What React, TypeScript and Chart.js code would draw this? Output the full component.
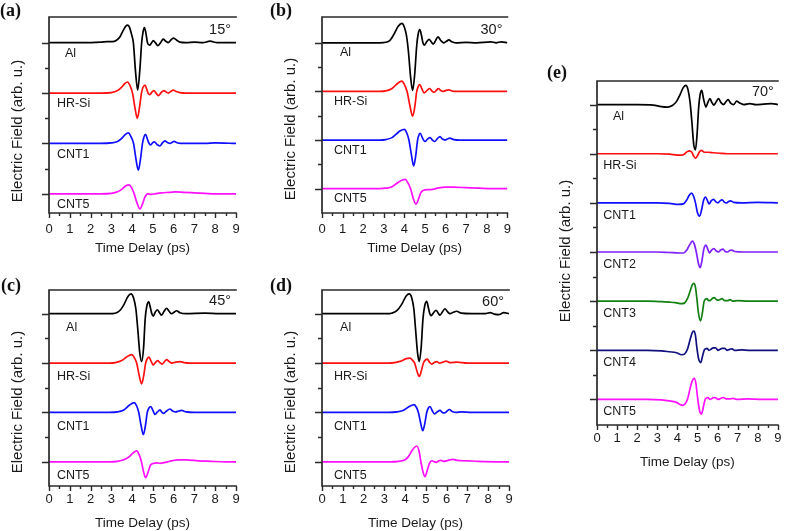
import React, { useEffect, useRef } from "react";
import { Chart, registerables } from "chart.js";

Chart.register(...registerables);

type Pt = [number, number];

// ---------- shared labels / ticks ----------
const traceNamesAD = ["Al", "HR-Si", "CNT1", "CNT5"];
const traceNamesE = ["Al", "HR-Si", "CNT1", "CNT2", "CNT3", "CNT4", "CNT5"];
const baselinesAD = [3, 2, 1, 0];
const baselinesE = [6, 5, 4, 3, 2, 1, 0];
const colorsAD = ["#000000", "#ff1010", "#1010ff", "#ff10ff"];
const colorsE = ["#000000", "#ff1010", "#1010ff", "#8020ff", "#108010", "#101080", "#ff10ff"];
const xMajorTicks = [0, 1, 2, 3, 4, 5, 6, 7, 8, 9];
const xMinorTicks = [0.5, 1.5, 2.5, 3.5, 4.5, 5.5, 6.5, 7.5, 8.5];
const yMajorAD = [0, 1, 2, 3];
const yMinorAD = [0.5, 1.5, 2.5];
const yMajorE = [0, 1, 2, 3, 4, 5, 6];
const yMinorE = [0.5, 1.5, 2.5, 3.5, 4.5, 5.5];
const angleLabels = ["15°", "30°", "45°", "60°", "70°"];
const xTitle = "Time Delay (ps)";
const yTitle = "Electric Field (arb. u.)";

// ---------- (a) 15° ----------
const aAl: Pt[] = [[0,0],[1.5,0],[2.5,0.01],[2.8,0.02],[3.05,0.02],[3.25,0.05],[3.42,0.12],[3.58,0.25],[3.7,0.33],[3.79,0.35],[3.88,0.3],[3.97,0.17],[4.06,0],[4.17,-0.6],[4.27,-0.94],[4.37,-0.55],[4.46,0],[4.53,0.22],[4.59,0.3],[4.66,0.2],[4.74,0.0],[4.84,-0.05],[4.94,0.0],[5.02,0.04],[5.12,0.0],[5.24,-0.06],[5.37,0.0],[5.5,0.07],[5.62,0.03],[5.74,0.0],[5.86,0.05],[5.98,0.09],[6.12,0.06],[6.3,0.01],[6.6,0.0],[7.0,0.01],[7.4,0.0],[7.75,0.03],[8.1,0.0],[9,0]];
const aHR: Pt[] = [[0,0],[2.5,0],[3.0,0.01],[3.3,0.05],[3.5,0.12],[3.65,0.19],[3.77,0.22],[3.9,0.15],[4.02,0],[4.14,-0.3],[4.25,-0.5],[4.35,-0.3],[4.45,0],[4.53,0.12],[4.62,0.16],[4.7,0.08],[4.78,-0.01],[4.86,-0.03],[4.95,0.02],[5.05,0.05],[5.15,0.0],[5.26,-0.05],[5.4,0.01],[5.53,0.05],[5.64,0.02],[5.74,0.0],[5.86,0.03],[5.98,0.06],[6.12,0.03],[6.3,0.01],[6.6,0.0],[9,0]];
const aC1: Pt[] = [[0,0],[2.5,0],[3.0,0.01],[3.3,0.04],[3.5,0.1],[3.68,0.18],[3.82,0.21],[3.95,0.13],[4.07,0],[4.19,-0.32],[4.3,-0.53],[4.4,-0.32],[4.5,0],[4.57,0.13],[4.65,0.18],[4.74,0.08],[4.82,0],[4.9,-0.03],[4.98,0.01],[5.07,0.03],[5.2,-0.02],[5.34,-0.05],[5.46,0.01],[5.58,0.05],[5.7,0.02],[5.82,0.0],[5.92,0.02],[6.01,0.04],[6.2,0.01],[6.5,0.0],[7.5,0.0],[8.0,0.01],[9,0]];
const aC5: Pt[] = [[0,0],[2.5,0],[3.0,0.01],[3.3,0.04],[3.5,0.09],[3.7,0.16],[3.85,0.18],[3.98,0.12],[4.1,0.0],[4.22,-0.16],[4.38,-0.3],[4.5,-0.2],[4.62,-0.06],[4.75,0.0],[4.9,-0.01],[5.1,0.0],[5.4,0.02],[5.8,0.03],[6.1,0.04],[6.5,0.03],[7.0,0.02],[7.5,0.01],[8.0,0.0],[9,0]];

// ---------- (b) 30° ----------
const bAl: Pt[] = [[0,0],[2.8,0],[3.1,0.01],[3.3,0.05],[3.5,0.18],[3.7,0.34],[3.88,0.4],[4.0,0.32],[4.1,0.15],[4.2,-0.2],[4.3,-0.7],[4.4,-0.98],[4.5,-0.65],[4.6,-0.05],[4.67,0.18],[4.75,0.27],[4.83,0.15],[4.9,0],[4.96,-0.05],[5.08,0.02],[5.2,0.07],[5.3,0.02],[5.4,-0.03],[5.52,0.05],[5.63,0.12],[5.76,0.05],[5.92,0.0],[6.04,0.03],[6.16,0.06],[6.3,0.02],[6.5,0.0],[7.0,0.01],[7.5,0.0],[8.2,0.02],[8.45,0.0],[8.7,0.02],[9,0.0]];
const bHR: Pt[] = [[0,0],[2.8,0],[3.1,0.01],[3.4,0.06],[3.6,0.14],[3.75,0.19],[3.88,0.21],[4.0,0.14],[4.13,0],[4.27,-0.3],[4.4,-0.51],[4.5,-0.33],[4.6,0],[4.67,0.1],[4.75,0.14],[4.84,0.06],[4.96,-0.03],[5.1,0.02],[5.23,0.06],[5.33,0.01],[5.44,-0.02],[5.55,0.02],[5.65,0.06],[5.76,0.02],[5.88,0],[6.02,0.02],[6.16,0.03],[6.4,0.0],[9,0]];
const bC1: Pt[] = [[0,0],[2.8,0],[3.1,0.01],[3.4,0.05],[3.6,0.12],[3.8,0.19],[4.0,0.22],[4.12,0.14],[4.22,0],[4.34,-0.3],[4.45,-0.53],[4.55,-0.32],[4.64,0],[4.7,0.1],[4.77,0.14],[4.87,0.05],[5.0,-0.03],[5.12,0.02],[5.25,0.05],[5.36,0.0],[5.47,-0.03],[5.6,0.03],[5.73,0.07],[5.85,0.02],[5.97,0],[6.08,0.02],[6.2,0.04],[6.4,0.01],[6.7,0.0],[9,0]];
const bC5: Pt[] = [[0,0],[2.8,0],[3.1,0.01],[3.4,0.04],[3.6,0.1],[3.85,0.17],[4.04,0.19],[4.17,0.12],[4.3,0.0],[4.43,-0.2],[4.56,-0.32],[4.68,-0.22],[4.8,-0.08],[4.9,-0.04],[5.12,-0.02],[5.3,-0.02],[5.6,0.01],[6.0,0.03],[6.4,0.03],[7.0,0.02],[7.6,0.01],[8.3,0.0],[9,0]];

// ---------- (c) 45° ----------
const cAl: Pt[] = [[0,0],[2.9,0],[3.18,0.01],[3.4,0.06],[3.6,0.18],[3.8,0.35],[3.95,0.4],[4.07,0.32],[4.18,0.1],[4.27,-0.3],[4.37,-0.8],[4.46,-0.97],[4.55,-0.7],[4.63,-0.1],[4.71,0.16],[4.8,0.24],[4.88,0.12],[4.95,0],[5.02,-0.05],[5.1,0.02],[5.21,0.08],[5.32,0.02],[5.42,-0.03],[5.54,0.05],[5.66,0.11],[5.78,0.05],[5.9,0],[6.02,0.03],[6.14,0.06],[6.3,0.02],[6.6,0.0],[7.5,0.01],[8.2,0.0],[9,0]];
const cHR: Pt[] = [[0,0],[2.9,0],[3.2,0.01],[3.5,0.05],[3.75,0.13],[3.98,0.17],[4.12,0.1],[4.22,0],[4.34,-0.25],[4.46,-0.42],[4.56,-0.25],[4.65,0],[4.73,0.09],[4.81,0.12],[4.9,0.05],[5.02,-0.04],[5.12,0.01],[5.23,0.05],[5.34,0.01],[5.45,-0.02],[5.56,0.03],[5.66,0.07],[5.78,0.03],[5.92,0.0],[6.1,0.02],[6.3,0.03],[6.5,0.01],[6.8,0.0],[9,0]];
const cC1: Pt[] = [[0,0],[2.9,0],[3.3,0.01],[3.6,0.05],[3.85,0.14],[4.1,0.2],[4.22,0.13],[4.32,0],[4.43,-0.26],[4.54,-0.45],[4.64,-0.27],[4.73,0],[4.81,0.09],[4.9,0.12],[5.0,0.04],[5.1,-0.04],[5.22,0.01],[5.34,0.05],[5.44,0.0],[5.52,-0.02],[5.66,0.03],[5.82,0.07],[5.95,0.03],[6.1,0.01],[6.25,0.03],[6.38,0.04],[6.6,0.01],[7.0,0.0],[9,0]];
const cC5: Pt[] = [[0,0],[2.9,0],[3.3,0.01],[3.6,0.04],[3.85,0.1],[4.05,0.18],[4.22,0.22],[4.34,0.14],[4.45,0],[4.55,-0.2],[4.65,-0.32],[4.76,-0.22],[4.88,-0.07],[4.96,-0.04],[5.08,-0.03],[5.18,-0.02],[5.35,-0.03],[5.5,-0.02],[5.7,0.0],[5.9,0.02],[6.2,0.04],[6.6,0.04],[7.2,0.02],[7.8,0.01],[8.5,0.0],[9,0]];

// ---------- (d) 60° ----------
const dAl: Pt[] = [[0,0],[3.1,0],[3.35,0.01],[3.6,0.06],[3.85,0.2],[4.05,0.36],[4.2,0.4],[4.32,0.32],[4.42,0.1],[4.5,-0.3],[4.6,-0.8],[4.68,-0.97],[4.77,-0.7],[4.86,-0.1],[4.95,0.17],[5.04,0.25],[5.12,0.12],[5.19,0],[5.25,-0.04],[5.37,0.02],[5.49,0.07],[5.58,0.02],[5.68,-0.03],[5.8,0.04],[5.92,0.1],[6.04,0.04],[6.16,0],[6.32,0.03],[6.48,0.05],[6.7,0.01],[7.2,0.0],[7.8,0.0],[8.1,0.02],[8.3,-0.01],[8.5,-0.02],[8.75,0.02],[9,0.0]];
const dHR: Pt[] = [[0,0],[3.2,0],[3.5,0.01],[3.8,0.04],[4.05,0.09],[4.23,0.1],[4.37,0.05],[4.46,0],[4.57,-0.16],[4.68,-0.27],[4.78,-0.16],[4.88,0],[4.97,0.06],[5.07,0.08],[5.17,0.02],[5.28,-0.02],[5.4,0.01],[5.52,0.03],[5.66,0.0],[5.82,0.02],[5.97,0.04],[6.15,0.01],[6.5,0.02],[7.0,0.0],[9,0]];
const dC1: Pt[] = [[0,0],[3.2,0],[3.6,0.01],[3.9,0.04],[4.2,0.12],[4.43,0.16],[4.55,0.1],[4.64,0],[4.75,-0.22],[4.85,-0.37],[4.95,-0.22],[5.04,0],[5.12,0.09],[5.2,0.12],[5.3,0.04],[5.41,-0.03],[5.54,0.01],[5.68,0.04],[5.79,0.0],[5.89,-0.01],[6.0,0.02],[6.13,0.06],[6.27,0.02],[6.45,0.0],[6.7,0.01],[7.2,0.0],[9,0]];
const dC5: Pt[] = [[0,0],[3.3,0],[3.7,0.01],[3.95,0.03],[4.15,0.1],[4.35,0.24],[4.56,0.32],[4.68,0.2],[4.76,0],[4.86,-0.2],[4.96,-0.3],[5.06,-0.18],[5.17,-0.03],[5.28,0.02],[5.4,0.0],[5.5,-0.01],[5.62,0.02],[5.72,0.03],[5.85,0.01],[6.0,0.02],[6.15,0.04],[6.3,0.05],[6.5,0.03],[7.0,0.02],[7.5,0.01],[8.5,0.0],[9,0]];

// ---------- (e) 70° ----------
const eAl: Pt[] = [[0,0],[2.0,0],[2.8,-0.01],[3.2,-0.04],[3.5,-0.05],[3.75,-0.02],[3.95,0.06],[4.15,0.22],[4.3,0.35],[4.42,0.39],[4.53,0.3],[4.63,0.05],[4.72,-0.35],[4.81,-0.8],[4.9,-0.92],[4.98,-0.6],[5.06,-0.05],[5.13,0.2],[5.21,0.29],[5.3,0.12],[5.42,-0.05],[5.52,0.05],[5.62,0.12],[5.72,0.04],[5.82,-0.01],[5.93,0.06],[6.05,0.12],[6.17,0.04],[6.3,0.0],[6.4,0.05],[6.52,0.1],[6.65,0.03],[6.8,0.0],[6.95,0.07],[7.1,0.03],[7.3,0.0],[7.6,0.02],[7.9,0.0],[8.3,0.01],[8.7,0.02],[9,0.0]];
const eHR: Pt[] = [[0,0],[3.0,0],[3.6,-0.01],[4.1,-0.03],[4.3,-0.02],[4.45,0.03],[4.6,0.06],[4.72,0.03],[4.8,-0.04],[4.9,-0.09],[5.0,-0.04],[5.1,0.04],[5.2,0.07],[5.34,0.03],[5.55,0.03],[5.8,0.02],[6.1,0.01],[6.5,0.0],[9,0]];
const eC1: Pt[] = [[0,0],[3.0,0],[3.6,-0.01],[4.05,-0.03],[4.3,-0.02],[4.45,0.05],[4.58,0.15],[4.7,0.2],[4.8,0.14],[4.9,0],[5.0,-0.2],[5.1,-0.27],[5.2,-0.15],[5.3,0.05],[5.4,0.12],[5.5,0.04],[5.58,-0.02],[5.68,0.04],[5.8,0.07],[5.92,0.02],[6.02,0.0],[6.12,0.04],[6.23,0.06],[6.35,0.01],[6.45,0.0],[6.55,0.03],[6.65,0.04],[6.8,0.01],[7.2,0.0],[8.0,0.01],[9,0]];
const eC2: Pt[] = [[0,0],[3.0,0],[3.6,-0.01],[4.1,-0.02],[4.3,-0.02],[4.45,0.03],[4.6,0.14],[4.75,0.22],[4.85,0.15],[4.94,0],[5.04,-0.22],[5.13,-0.32],[5.22,-0.18],[5.31,0.05],[5.42,0.14],[5.52,0.05],[5.6,-0.02],[5.7,0.04],[5.82,0.07],[5.94,0.02],[6.04,0.0],[6.15,0.04],[6.27,0.06],[6.38,0.01],[6.5,0.0],[6.6,0.03],[6.7,0.04],[6.85,0.01],[7.3,0.0],[9,0]];
const eC3: Pt[] = [[0,0],[2.5,0],[3.2,-0.01],[3.6,-0.02],[3.9,-0.03],[4.2,-0.05],[4.35,-0.04],[4.5,0.05],[4.63,0.2],[4.73,0.32],[4.82,0.36],[4.9,0.28],[4.97,0.05],[5.05,-0.25],[5.15,-0.4],[5.24,-0.25],[5.32,-0.02],[5.4,0.04],[5.47,0.05],[5.56,0.01],[5.65,0.02],[5.75,0.06],[5.83,0.07],[5.95,0.03],[6.05,0.02],[6.15,0.04],[6.23,0.05],[6.35,0.01],[6.5,0.01],[6.62,0.03],[6.75,0.0],[7.0,0.01],[7.5,0.0],[9,0]];
const eC4: Pt[] = [[0,0],[2.5,0],[3.2,-0.01],[3.6,-0.03],[3.95,-0.05],[4.22,-0.09],[4.37,-0.07],[4.5,0.02],[4.62,0.2],[4.73,0.35],[4.82,0.39],[4.9,0.3],[4.97,0.05],[5.06,-0.18],[5.16,-0.25],[5.25,-0.12],[5.33,0.0],[5.4,0.03],[5.47,0.04],[5.57,0.0],[5.67,0.02],[5.78,0.05],[5.9,0.05],[6.02,0.0],[6.12,0.02],[6.23,0.04],[6.35,0.04],[6.47,0.0],[6.6,0.02],[6.72,0.03],[6.85,0.0],[7.2,0.01],[7.6,0.0],[9,0]];
const eC5: Pt[] = [[0,0],[2.5,0],[3.2,-0.01],[3.6,-0.03],[3.95,-0.06],[4.24,-0.12],[4.38,-0.09],[4.5,0.0],[4.62,0.2],[4.74,0.38],[4.84,0.43],[4.92,0.33],[5.0,0.05],[5.1,-0.22],[5.2,-0.3],[5.3,-0.14],[5.38,0.0],[5.45,0.03],[5.52,0.04],[5.62,0.0],[5.72,0.02],[5.82,0.04],[5.92,0.03],[6.02,0.0],[6.15,0.02],[6.3,0.04],[6.42,0.01],[6.6,0.01],[6.75,0.02],[7.0,0.0],[7.5,0.01],[8.2,0.0],[9,0]];

// ---------- styling ----------
const SANS = '"Liberation Sans", Arial, Helvetica, sans-serif';
const SERIF = '"Liberation Serif", "Times New Roman", serif';
const AXIS_COLOR = "#2a2a2a";
const TEXT_COLOR = "#1a1a1a";

type PanelCfg = {
  tag: string;
  angle: string;
  series: Pt[][];
  names: string[];
  colors: string[];
  base: number[];
  yMin: number;
  yMax: number;
  yMajor: number[];
  yMinor: number[];
  labelX: number[];
  labelDrop: number;
  angleX: number;
  angleY: number;
  canvas: { left: number; top: number; w: number; h: number };
  yAxisW: number;
  xAxisH: number;
  padTop: number;
  padRight: number;
  tickPad: number;
  titlePad: number;
  yTitleShift: number;
  tagPos: { left: number; top: number };
};

const panels: PanelCfg[] = [
  {
    tag: "(a)", angle: angleLabels[0], series: [aAl, aHR, aC1, aC5], names: traceNamesAD, colors: colorsAD, base: baselinesAD,
    yMin: -0.38, yMax: 3.51, yMajor: yMajorAD, yMinor: yMinorAD,
    labelX: [0.77, 0.38, 0.38, 0.38], labelDrop: 0.21, angleX: 8.76, angleY: 3.25,
    canvas: { left: 0, top: 0, w: 260, h: 260 }, yAxisW: 49, xAxisH: 47, padTop: 17, padRight: 24,
    tickPad: 9, titlePad: 3.9, yTitleShift: 16, tagPos: { left: 0, top: 1 },
  },
  {
    tag: "(b)", angle: angleLabels[1], series: [bAl, bHR, bC1, bC5], names: traceNamesAD, colors: colorsAD, base: baselinesAD,
    yMin: -0.5, yMax: 3.53, yMajor: yMajorAD, yMinor: yMinorAD,
    labelX: [0.87, 0.58, 0.58, 0.58], labelDrop: 0.21, angleX: 8.76, angleY: 3.26,
    canvas: { left: 260, top: 0, w: 260, h: 260 }, yAxisW: 62, xAxisH: 47, padTop: 17, padRight: 11,
    tickPad: 9, titlePad: 3.9, yTitleShift: 14, tagPos: { left: 270, top: 1 },
  },
  {
    tag: "(c)", angle: angleLabels[2], series: [cAl, cHR, cC1, cC5], names: traceNamesAD, colors: colorsAD, base: baselinesAD,
    yMin: -0.49, yMax: 3.48, yMajor: yMajorAD, yMinor: yMinorAD,
    labelX: [0.82, 0.38, 0.38, 0.38], labelDrop: 0.28, angleX: 8.76, angleY: 3.26,
    canvas: { left: 0, top: 266, w: 260, h: 265 }, yAxisW: 49, xAxisH: 45, padTop: 24, padRight: 24,
    tickPad: 6, titlePad: 0, yTitleShift: 14, tagPos: { left: 1, top: 276 },
  },
  {
    tag: "(d)", angle: angleLabels[3], series: [dAl, dHR, dC1, dC5], names: traceNamesAD, colors: colorsAD, base: baselinesAD,
    yMin: -0.49, yMax: 3.48, yMajor: yMajorAD, yMinor: yMinorAD,
    labelX: [0.87, 0.58, 0.58, 0.58], labelDrop: 0.28, angleX: 8.76, angleY: 3.24,
    canvas: { left: 260, top: 266, w: 260, h: 265 }, yAxisW: 62, xAxisH: 45, padTop: 24, padRight: 11,
    tickPad: 6, titlePad: 0, yTitleShift: 14, tagPos: { left: 270, top: 276 },
  },
  {
    tag: "(e)", angle: angleLabels[4], series: [eAl, eHR, eC1, eC2, eC3, eC4, eC5], names: traceNamesE, colors: colorsE, base: baselinesE,
    yMin: -0.52, yMax: 6.48, yMajor: yMajorE, yMinor: yMinorE,
    labelX: [0.79, 0.31, 0.31, 0.31, 0.31, 0.31, 0.31], labelDrop: 0.25, angleX: 8.8, angleY: 6.26,
    canvas: { left: 520, top: 55, w: 267, h: 425 }, yAxisW: 77, xAxisH: 55, padTop: 26, padRight: 5,
    tickPad: 5.5, titlePad: 9.9, yTitleShift: -2, tagPos: { left: 547, top: 63 },
  },
];

function makeDecor(cfg: PanelCfg) {
  return {
    id: "decor",
    afterDatasetsDraw(chart: any) {
      const { ctx, chartArea: a, scales } = chart;
      const xs = scales.x;
      const ys = scales.y;
      ctx.save();
      // axis box (left, bottom, top)
      ctx.strokeStyle = AXIS_COLOR;
      ctx.lineWidth = 1.7;
      ctx.lineCap = "square";
      ctx.beginPath();
      ctx.moveTo(a.right, a.top);
      ctx.lineTo(a.left, a.top);
      ctx.lineTo(a.left, a.bottom);
      ctx.lineTo(a.right, a.bottom);
      ctx.stroke();
      // ticks
      ctx.lineWidth = 1.4;
      ctx.lineCap = "butt";
      ctx.beginPath();
      for (const v of cfg.yMajor) {
        const p = Math.round(ys.getPixelForValue(v)) + 0.5;
        ctx.moveTo(a.left, p);
        ctx.lineTo(a.left - 7, p);
      }
      for (const v of cfg.yMinor) {
        const p = Math.round(ys.getPixelForValue(v)) + 0.5;
        ctx.moveTo(a.left, p);
        ctx.lineTo(a.left - 4, p);
      }
      for (const v of xMajorTicks) {
        const p = Math.round(xs.getPixelForValue(v)) + 0.5;
        ctx.moveTo(p, a.bottom);
        ctx.lineTo(p, a.bottom + 5);
      }
      for (const v of xMinorTicks) {
        const p = Math.round(xs.getPixelForValue(v)) + 0.5;
        ctx.moveTo(p, a.bottom);
        ctx.lineTo(p, a.bottom + 3);
      }
      ctx.stroke();
      // trace labels
      ctx.fillStyle = TEXT_COLOR;
      ctx.font = `12.5px ${SANS}`;
      ctx.textAlign = "left";
      ctx.textBaseline = "middle";
      cfg.names.forEach((n, i) => {
        ctx.fillText(n, xs.getPixelForValue(cfg.labelX[i]), ys.getPixelForValue(cfg.base[i] - cfg.labelDrop));
      });
      // angle label
      ctx.font = `14.5px ${SANS}`;
      ctx.textAlign = "right";
      ctx.fillText(cfg.angle, xs.getPixelForValue(cfg.angleX), ys.getPixelForValue(cfg.angleY));
      // y title
      ctx.font = `15px ${SANS}`;
      ctx.textAlign = "center";
      ctx.translate(a.left - 31, (a.top + a.bottom) / 2 + cfg.yTitleShift);
      ctx.rotate(-Math.PI / 2);
      ctx.fillText(yTitle, 0, 0);
      ctx.restore();
    },
  };
}

function Panel({ cfg }: { cfg: PanelCfg }) {
  const ref = useRef<HTMLCanvasElement | null>(null);
  useEffect(() => {
    if (!ref.current) return;
    const chart = new Chart(ref.current, {
      type: "line",
      data: {
        datasets: cfg.series.map((s, i) => ({
          label: cfg.names[i],
          data: s.map(([t, v]) => ({ x: t, y: v + cfg.base[i] })),
          borderColor: cfg.colors[i],
          backgroundColor: cfg.colors[i],
          borderWidth: 1.7,
          pointRadius: 0,
          fill: false,
          cubicInterpolationMode: "monotone" as const,
        })),
      },
      options: {
        responsive: false,
        animation: false,
        events: [],
        layout: { padding: { top: cfg.padTop, right: cfg.padRight, left: 0, bottom: 0 } },
        plugins: { legend: { display: false }, tooltip: { enabled: false } },
        scales: {
          x: {
            type: "linear",
            min: 0,
            max: 9,
            afterBuildTicks: (scale: any) => {
              scale.ticks = xMajorTicks.map((v) => ({ value: v }));
            },
            afterFit: (scale: any) => {
              scale.height = cfg.xAxisH;
            },
            grid: { display: false, drawTicks: false },
            border: { display: false },
            ticks: {
              padding: cfg.tickPad,
              color: TEXT_COLOR,
              font: { family: SANS, size: 13 },
              maxRotation: 0,
              autoSkip: false,
              callback: (v: any) => String(v),
            },
            title: {
              display: true,
              text: xTitle,
              color: TEXT_COLOR,
              font: { family: SANS, size: 13.5 },
              padding: { top: 0, bottom: cfg.titlePad },
            },
          },
          y: {
            type: "linear",
            min: cfg.yMin,
            max: cfg.yMax,
            afterFit: (scale: any) => {
              scale.width = cfg.yAxisW;
            },
            grid: { display: false, drawTicks: false },
            border: { display: false },
            ticks: { display: false },
          },
        },
      },
      plugins: [makeDecor(cfg)],
    } as any);
    return () => chart.destroy();
  }, [cfg]);
  return (
    <canvas
      ref={ref}
      width={cfg.canvas.w}
      height={cfg.canvas.h}
      style={{ position: "absolute", left: cfg.canvas.left, top: cfg.canvas.top, width: cfg.canvas.w, height: cfg.canvas.h }}
    />
  );
}

export default function App() {
  return (
    <div style={{ position: "fixed", left: 0, top: 0, width: 787, height: 531, background: "#ffffff", overflow: "hidden" }}>
      {panels.map((p) => (
        <React.Fragment key={p.tag}>
          <Panel cfg={p} />
          <div
            style={{
              position: "absolute",
              left: p.tagPos.left,
              top: p.tagPos.top,
              fontFamily: SERIF,
              fontWeight: "bold",
              fontSize: 18,
              lineHeight: "18px",
              color: "#111",
            }}
          >
            {p.tag}
          </div>
        </React.Fragment>
      ))}
    </div>
  );
}
